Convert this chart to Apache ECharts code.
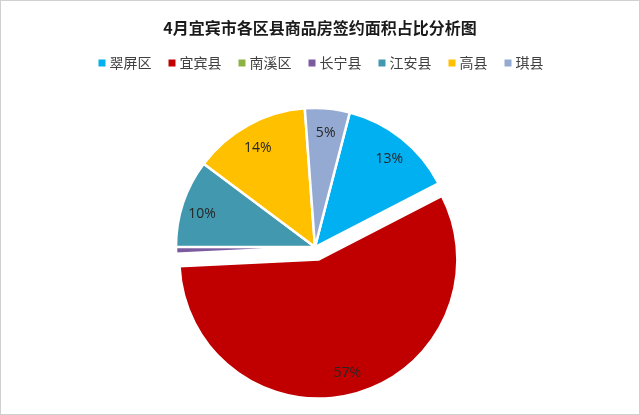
<!DOCTYPE html>
<html><head><meta charset="utf-8">
<script src="https://cdn.jsdelivr.net/npm/echarts@6/dist/echarts.min.js"></script>
<style>
html,body{margin:0;padding:0;background:#fff;}
#c{width:640px;height:415px;box-sizing:border-box;border:1px solid #d0d0d0;}
</style></head>
<body><div id="c"></div>
<script>
var titleText = '4月宜宾市各区县商品房签约面积占比分析图';
var categories = ['翠屏区','宜宾县','南溪区','长宁县','江安县','高县','琪县'];
var values = [13.4, 56.8, 0.0, 0.8, 10.2, 13.6, 5.2];
var colors = ['#00B0F0','#C00000','#8DB244','#7B5AA0','#4198AF','#FFC000','#95AAD2'];

var chart = echarts.init(document.getElementById('c'), null, {renderer:'canvas'});
var mainData = categories.map(function(n,i){
  return {name:n, value:values[i], selected: n === '宜宾县', itemStyle:{color:colors[i]}};
});
var labelData = categories.map(function(n,i){
  return {name:n, value:values[i], selected: n === '宜宾县'};
});
chart.setOption({
  animation:false,
  color: colors,
  title:{text:titleText, left:'center', top:14,
    textStyle:{fontFamily:'Noto Sans CJK SC', fontWeight:'bold', fontSize:16, color:'#1a1a1a'}},
  legend:{data:categories, top:50, left:'center', itemWidth:9, itemHeight:9, itemGap:15,
    icon:'rect', selectedMode:false,
    textStyle:{fontFamily:'Noto Sans CJK SC', fontSize:14, color:'#404040', padding:[0,0,0,-2]}},
  series:[
    {type:'pie', center:[314,246], radius:[0,139], startAngle:75.5, clockwise:true,
     selectedMode:'single', selectedOffset:13, avoidLabelOverlap:false,
     itemStyle:{borderColor:'#fff', borderWidth:2.5},
     label:{show:false}, labelLine:{show:false},
     emphasis:{disabled:true},
     data: mainData},
    {type:'pie', z:5, center:[314,251], radius:[94,138], startAngle:75.5, clockwise:true,
     selectedMode:'single', selectedOffset:6,
     silent:true, avoidLabelOverlap:false,
     itemStyle:{color:'transparent', borderWidth:0},
     label:{show:true, position:'inside', fontFamily:'Open Sans', fontSize:14, color:'#262626',
       formatter:function(p){ return p.percent >= 2 ? Math.round(p.percent)+'%' : ''; }},
     labelLine:{show:false},
     emphasis:{disabled:true},
     data: labelData}
  ]
});
</script></body></html>
